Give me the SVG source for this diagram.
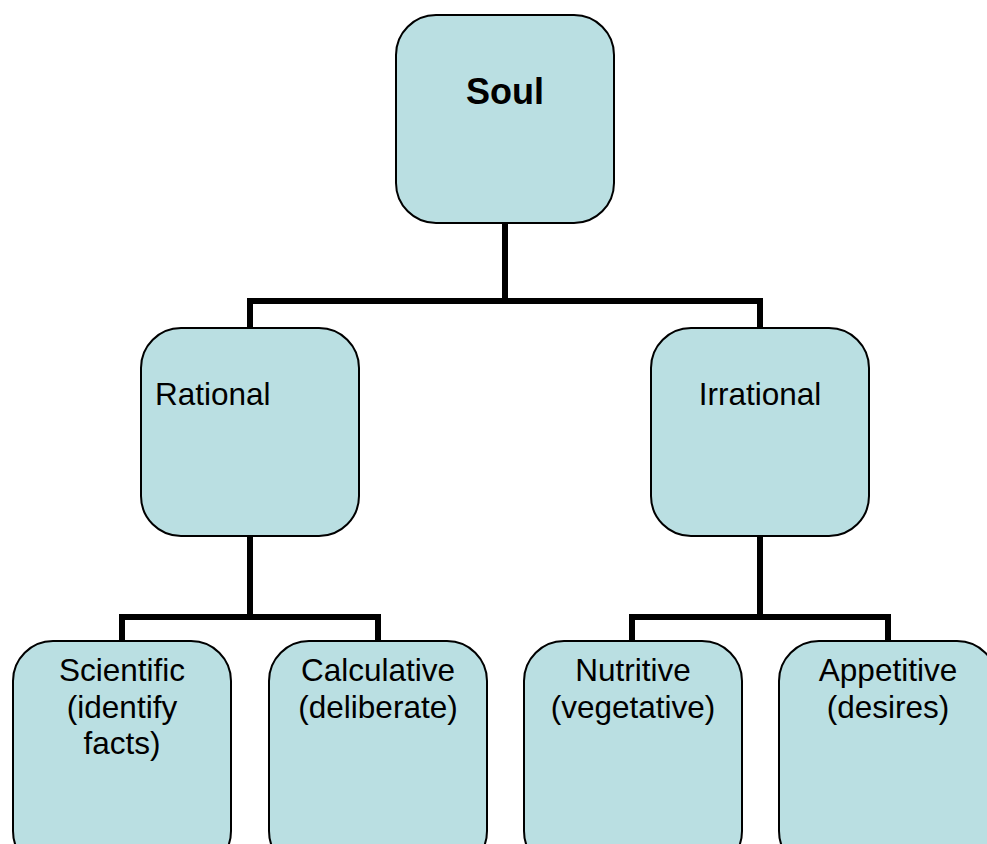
<svg xmlns="http://www.w3.org/2000/svg" width="987" height="844" viewBox="0 0 987 844">
<style>
.box{fill:#badfe2;stroke:#000;stroke-width:2}
.t{font-family:"Liberation Sans",Arial,sans-serif;font-size:31.5px;fill:#000;text-anchor:middle}
.c{fill:none;stroke:#000;stroke-width:6;stroke-linecap:butt;stroke-linejoin:miter}
</style>
<rect width="987" height="844" fill="#fff"/>
<g id="connectors">
<path class="c" d="M505 223V301M250 327V301H760V327"/>
<path class="c" d="M250 536V617M122 640V617H378V640"/>
<path class="c" d="M760 536V617M632 640V617H888V640"/>
</g>
<g id="soul"><rect class="box" x="396" y="15" width="218" height="208" rx="40"/><text class="t" x="505" y="104" style="font-weight:bold;font-size:36px">Soul</text></g>
<g id="rational"><rect class="box" x="141" y="328" width="218" height="208" rx="40"/><text class="t" x="155" y="405" style="text-anchor:start">Rational</text></g>
<g id="irrational"><rect class="box" x="651" y="328" width="218" height="208" rx="40"/><text class="t" x="760" y="405">Irrational</text></g>
<g id="scientific"><rect class="box" x="13" y="641" width="218" height="230" rx="40"/><text class="t" x="122" y="681">Scientific</text><text class="t" x="122" y="718">(identify</text><text class="t" x="122" y="754">facts)</text></g>
<g id="calculative"><rect class="box" x="269" y="641" width="218" height="230" rx="40"/><text class="t" x="378" y="681">Calculative</text><text class="t" x="378" y="718">(deliberate)</text></g>
<g id="nutritive"><rect class="box" x="524" y="641" width="218" height="230" rx="40"/><text class="t" x="633" y="681">Nutritive</text><text class="t" x="633" y="718">(vegetative)</text></g>
<g id="appetitive"><rect class="box" x="779" y="641" width="218" height="230" rx="40"/><text class="t" x="888" y="681">Appetitive</text><text class="t" x="888" y="718">(desires)</text></g>
</svg>
